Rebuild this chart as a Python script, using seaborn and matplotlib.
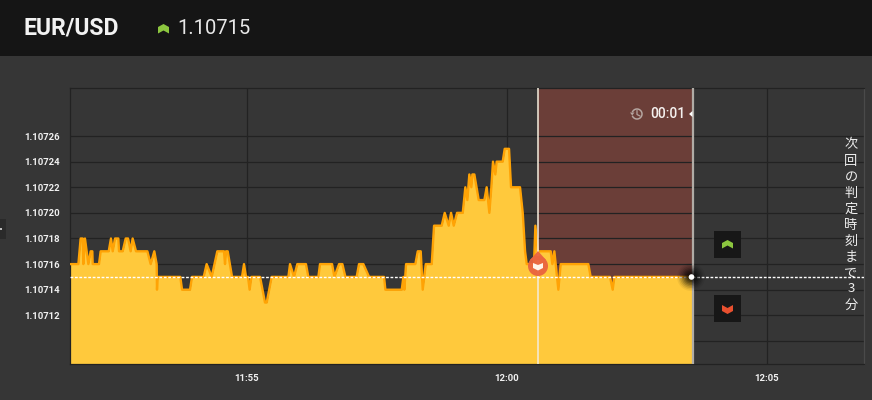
import matplotlib
matplotlib.use("Agg")
import matplotlib.pyplot as plt
from matplotlib.patches import Arc, Circle, Polygon, Rectangle
from matplotlib.lines import Line2D
from matplotlib.transforms import Affine2D
import numpy as np
import pandas as pd
import seaborn as sns

# seconds from 12:00 and last digits of the quote (1.107xx)
seconds = [-504, -494.6, -492, -489.6, -488.9, -487, -483.1, -480.4, -478.5, -478.1, -470.8, -468.9,
           -459.6, -457, -455, -452.3, -448.5, -447.7, -443.5, -440, -437.3, -434.3, -432, -428.1,
           -415, -411.2, -407, -404.3, -403.9, -403.1, -377, -375, -365.8, -363.5, -350, -346.6,
           -340.8, -334.3, -326.6, -325.4, -324.3, -322.3, -317.3, -305.8, -303.5, -301.2, -298.9,
           -297, -295, -285, -279.3, -277.3, -271.6, -252.3, -250.4, -245.8, -242, -232, -229.3,
           -217.7, -215.8, -201.9, -199.2, -193.8, -190, -186.5, -173.5, -170.8, -165.8, -159.2,
           -141.9, -140.4, -121.5, -119.6, -118.5, -116.5, -105.8, -103, -99.6, -97.3, -93.8, -86.9,
           -84.2, -75.4, -71.9, -67.3, -64.6, -61.5, -57.7, -51.1, -49.6, -48.1, -45.8, -43.5, -41.2,
           -40, -37.7, -32.7, -26.2, -23.5, -20.4, -18.1, -16.2, -13.5, -12, -5, -2.7, 2.3, 4.6, 15,
           18.1, 20.8, 22.7, 29.6, 31.1, 32.7, 35.4, 50.4, 52.3, 54.6, 59.2, 61.9, 93.8, 96.5, 118.8,
           121.9, 123.8, 215]
points = [16, 16, 18, 18, 16, 18, 16, 17, 17, 16, 16, 17,
          17, 18, 17, 18, 18, 17, 17, 18, 18, 17, 18, 17,
          17, 16, 17, 16, 14, 15, 15, 14, 14, 15, 15, 16,
          15, 17, 17, 16, 17, 17, 15, 15, 16, 15, 15,
          14, 15, 15, 13, 13, 15, 15, 16, 15, 16, 16, 15,
          15, 16, 16, 15, 16, 16, 15, 15, 16, 16, 15,
          15, 14, 14, 15, 14, 16, 16, 17, 17, 14, 16, 16,
          19, 19, 20, 19, 20, 19, 20, 20, 21, 22, 21, 23, 22,
          23, 23, 21, 21, 22, 20, 22, 24, 23, 24, 24, 25, 25, 22, 22,
          20, 17, 16, 16, 16, 19, 17, 17, 16, 17, 14, 16, 16, 15, 15,
          14, 15, 15]
y_ticks = [1.10710, 1.10712, 1.10714, 1.10716, 1.10718, 1.10720, 1.10722, 1.10724, 1.10726]
y_labels = ["", "1.10712", "1.10714", "1.10716", "1.10718", "1.10720", "1.10722", "1.10724", "1.10726"]
x_ticks = [-300, 0, 300]
x_labels = ["11:55", "12:00", "12:05"]
current_price = 1.10715
round_start = 36
round_end = 215
note = "次回の判定時刻まで3分"

df = pd.DataFrame({"t": seconds, "price": [1.107 + p * 1e-5 for p in points]})

sns.set_theme(style="dark")
plt.rcParams["font.family"] = ["Roboto", "Noto Sans CJK JP", "DejaVu Sans"]

fig = plt.figure(figsize=(8.72, 4.0), dpi=100, facecolor="#363636")
# screen pixels -> figure, for the page furniture around the chart
px = Affine2D().scale(1 / 872, -1 / 400).translate(0, 1) + fig.transFigure

fig.add_artist(Rectangle((0, 0), 872, 56, transform=px, color="#151515", lw=0))
fig.text(23, 27.5, "EUR/USD", transform=px, color="#f2f2f2", fontsize=16.6, fontweight="bold", va="center")
fig.text(177.5, 28.5, "1.10715", transform=px, color="#e8e8e8", fontsize=14.5, va="center")

ax = fig.add_axes([69.8 / 872, 1 - 364 / 400, 793.7 / 872, 276 / 400], facecolor="#363636")
ax.set_xlim(-504.5, 411.3)
ax.set_ylim(1.107082, 1.1072975)

ax.axvspan(round_start, round_end, color="#6b3e38", lw=0, zorder=1)
ax.fill_between(df["t"], df["price"], 1.107082, color="#ffc93c", lw=0, zorder=2)
sns.lineplot(data=df, x="t", y="price", color="#ffa305", lw=1.7, ax=ax, zorder=3, estimator=None, sort=False)

ax.set_xticks(x_ticks, x_labels)
ax.set_yticks(y_ticks, y_labels)
ax.set_xlabel("")
ax.set_ylabel("")
ax.set_axisbelow("line")
ax.grid(True, color="#222222", lw=0.9)
ax.tick_params(length=0, colors="#f0f0f0", labelsize=6.8, pad=7)
for label in ax.get_xticklabels() + ax.get_yticklabels():
    label.set_fontweight("bold")
for side in ax.spines.values():
    side.set_color("#222222")
    side.set_linewidth(0.9)
ax.spines["right"].set_color("#4a4a4a")

ax.axvline(round_start, color="#f4ecdc", lw=1.3, alpha=0.85, zorder=4)
ax.axvline(round_end, color="#b0aca6", lw=1.6, zorder=4)
ax.axhline(current_price, color="white", lw=1.0, ls=(0, (2, 1.2)), zorder=5)

# glow and dot at the last quote
for r, a in zip(np.arange(14, 2, -1.5), np.linspace(0.05, 0.28, 8)):
    fig.add_artist(Circle((691, 277), r, transform=px, color="black", alpha=a, lw=0))
fig.add_artist(Circle((691.5, 277), 2.8, transform=px, color="white", lw=0))

# entry marker
fig.add_artist(Circle((538, 266), 10, transform=px, color="#e9643f", alpha=0.95, lw=0))
fig.add_artist(Polygon([(530, 260), (538, 251), (546, 260)], transform=px, color="#e9643f", alpha=0.95, lw=0))
fig.add_artist(Polygon([(533, 263), (538, 265), (543, 263), (543, 268), (538, 270.5), (533, 268)],
                       transform=px, color="#fff4e8", lw=0))

# up / down buttons
fig.add_artist(Rectangle((714, 231), 27, 27, transform=px, color="#171717", lw=0))
fig.add_artist(Rectangle((714, 295), 27, 27, transform=px, color="#171717", lw=0))
fig.add_artist(Polygon([(722, 243), (727.5, 240), (733, 243), (733, 248.5), (727.5, 245.5), (722, 248.5)],
                       transform=px, color="#8cc63f", lw=0))
fig.add_artist(Polygon([(722, 305), (727.5, 308), (733, 305), (733, 311), (727.5, 314), (722, 311)],
                       transform=px, color="#e8502f", lw=0))
fig.add_artist(Polygon([(158, 27), (163.5, 24), (169, 27), (169, 33.5), (163.5, 30.5), (158, 33.5)],
                       transform=px, color="#8cc63f", lw=0))

# countdown with the clock icon
fig.add_artist(Arc((637, 114), 10, 10, theta1=-160, theta2=160, transform=px, color="#b5a5a0", lw=1.1))
fig.add_artist(Line2D([637, 637, 640], [110.5, 114.5, 116], transform=px, color="#b5a5a0", lw=0.9))
fig.add_artist(Polygon([(630, 112.5), (634.5, 112.5), (632.2, 115.5)], transform=px, color="#b5a5a0", lw=0))
fig.text(650, 114, "00:01", transform=px, color="#f4f0ee", fontsize=10, fontweight="medium", va="center")
fig.add_artist(Polygon([(689, 114), (692.5, 111), (692.5, 117)], transform=px, color="white", lw=0))

for i, ch in enumerate(note):
    fig.text(851, 145 + i * 16, ch, transform=px, color="#eeeeee", fontsize=9.5, ha="center", va="center",
             family=["Noto Sans CJK JP", "DejaVu Sans"])

# collapsed side tab
fig.add_artist(Rectangle((0, 219), 5.5, 20, transform=px, color="#2a2a2a", lw=0))
fig.add_artist(Rectangle((0, 228), 1.5, 2, transform=px, color="#bbbbbb", lw=0))

fig.savefig("out.png", dpi=100, facecolor=fig.get_facecolor())
